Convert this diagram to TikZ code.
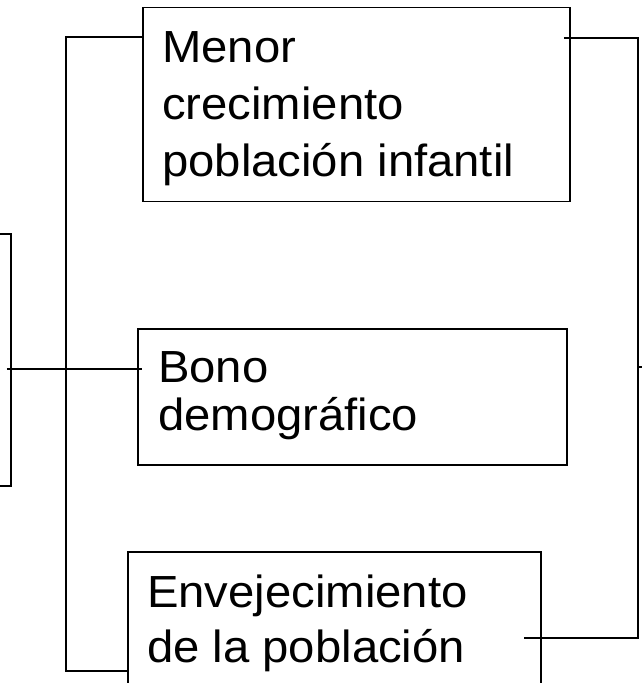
\documentclass[tikz,border=0pt]{standalone}
\usepackage{fontspec}
\setmainfont[FakeStretch=1.05]{Liberation Sans}
\begin{document}
\begin{tikzpicture}[x=1pt,y=-1pt,
  box/.style={draw=black, line width=1.8pt, rectangle, inner sep=0pt, anchor=north west},
  lbl/.style={anchor=north west, inner sep=0pt, align=left, text=black},
  conn/.style={draw=black, line width=1.8pt}]
\useasboundingbox (0,0) rectangle (641,683);
% boxes
\node[box, minimum width=50pt, minimum height=252pt] (L) at (-40,233) {};
\node[box, minimum width=427pt, minimum height=194pt] (T) at (142,6.5) {};
\node[box, minimum width=429pt, minimum height=136pt] (M) at (137,328) {};
\node[box, minimum width=413pt, minimum height=160pt] (B) at (127,551) {};
% labels
\node[lbl, font=\fontsize{45}{57}\selectfont] (Tt) at (162,31.5) {Menor\\crecimiento\\población infantil};
\node[lbl, font=\fontsize{45}{48}\selectfont] (Mt) at (158,351.5) {Bono\\demográfico};
\node[lbl, font=\fontsize{45}{55}\selectfont] (Bt) at (147,574.5) {Envejecimiento\\de la población};
% junction coordinates
\coordinate (j1) at (66,37);
\coordinate (j2) at (66,671);
\coordinate (r1) at (638,38);
\coordinate (r2) at (638,638);
\coordinate (rs) at (646,367);
% connectors
\draw[conn] ([xshift=-5pt]L.east |- 0,369) -- ([xshift=5pt]M.west |- 0,369);
\draw[conn] (T.west |- j1) -- (j1) -- (j2) -- (B.west |- j2);
\draw[conn] ([xshift=-7pt]T.east |- r1) -- (r1) -- (r2) -- ([xshift=-18pt]B.east |- r2);
\draw[conn] (r1 |- rs) -- (rs);
\end{tikzpicture}
\end{document}
